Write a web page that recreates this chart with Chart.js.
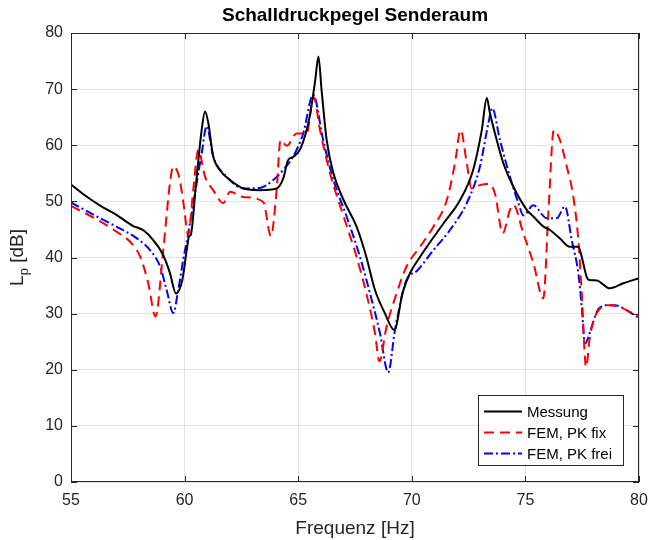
<!DOCTYPE html>
<html>
<head>
<meta charset="utf-8">
<script src="https://cdn.jsdelivr.net/npm/chart.js@4.4.1/dist/chart.umd.min.js"></script>
<style>
  html, body { margin: 0; padding: 0; background: #fff; }
  #wrap { width: 650px; height: 540px; }
</style>
</head>
<body>
<div id="wrap"><canvas id="chart" width="650" height="540"></canvas></div>
<script>
// === Daten ===
const xTicks = [55, 60, 65, 70, 75, 80];
const yTicks = [0, 10, 20, 30, 40, 50, 60, 70, 80];

const messungF = [55.0, 55.5, 56.3, 57.0, 57.7, 58.2, 58.6, 59.05, 59.35, 59.62, 59.9, 60.1, 60.2, 60.27, 60.5, 60.75, 60.9, 61.05, 61.25, 61.55, 62.0, 62.6, 63.3, 64.05, 64.35, 64.55, 64.8, 65.1, 65.5, 65.75, 65.89, 66.03, 66.25, 66.55, 67.0, 67.57, 68.0, 68.38, 68.8, 69.23, 69.6, 69.92, 70.36, 70.66, 71.4, 72.12, 72.7, 73.08, 73.3, 73.44, 73.74, 74.03, 74.47, 75.06, 75.35, 75.8, 76.08, 76.52, 76.96, 77.33, 77.48, 77.7, 77.8, 78.14, 78.72, 79.31, 80.0];
const messungL = [53.0, 51.4, 49.2, 47.6, 45.7, 44.8, 43.2, 40.5, 37.3, 33.6, 36.0, 41.5, 43.8, 44.0, 53.0, 62.7, 66.0, 63.8, 58.2, 55.6, 53.8, 52.3, 52.0, 52.3, 54.2, 57.3, 58.0, 59.4, 65.0, 71.6, 75.8, 69.8, 61.0, 55.0, 50.2, 45.5, 40.1, 34.2, 30.2, 27.1, 33.8, 37.2, 40.1, 41.9, 46.1, 50.2, 55.6, 62.7, 68.4, 65.7, 60.9, 56.8, 52.6, 48.5, 47.3, 45.5, 44.9, 43.4, 41.9, 41.9, 40.1, 36.5, 36.0, 35.9, 34.5, 35.4, 36.3];

const fixF = [55.0, 56.3, 57.0, 57.6, 58.05, 58.4, 58.72, 59.06, 59.36, 59.5, 59.75, 59.95, 60.16, 60.38, 60.6, 60.9, 61.26, 61.7, 62.0, 62.58, 63.46, 63.8, 64.05, 64.22, 64.5, 64.93, 65.37, 65.68, 65.96, 66.4, 67.0, 67.57, 68.0, 68.38, 68.57, 68.89, 69.33, 69.77, 70.36, 70.95, 71.54, 71.9, 72.15, 72.42, 72.63, 73.0, 73.37, 73.66, 74.0, 74.32, 74.47, 74.91, 75.35, 75.79, 76.01, 76.25, 76.52, 76.82, 77.11, 77.33, 77.48, 77.67, 77.84, 78.14, 78.72, 79.31, 80.0];
const fixL = [49.2, 46.4, 44.6, 42.8, 40.1, 35.4, 29.5, 41.3, 53.4, 56.2, 54.5, 49.7, 44.0, 52.0, 59.2, 54.4, 52.0, 49.7, 51.7, 50.8, 49.9, 43.8, 52.0, 60.9, 59.9, 62.1, 62.1, 68.6, 62.7, 55.0, 47.3, 40.1, 33.6, 26.5, 21.5, 27.7, 33.6, 38.4, 41.9, 45.5, 50.2, 56.8, 62.7, 56.8, 52.3, 52.9, 53.1, 51.4, 44.3, 48.5, 49.4, 44.3, 39.0, 32.7, 47.9, 62.7, 60.9, 56.2, 50.8, 43.1, 33.6, 20.5, 25.9, 30.1, 31.5, 30.9, 29.4];

const freiF = [55.0, 56.28, 57.0, 57.9, 58.48, 58.92, 59.21, 59.5, 59.72, 59.94, 60.16, 60.53, 60.75, 60.97, 61.26, 61.85, 62.58, 63.32, 63.9, 64.34, 64.78, 65.22, 65.66, 66.1, 66.55, 67.13, 67.72, 68.16, 68.6, 68.96, 69.26, 69.77, 70.22, 70.95, 71.68, 72.42, 73.0, 73.37, 73.54, 73.88, 74.32, 74.69, 74.91, 75.35, 75.94, 76.38, 76.74, 77.04, 77.33, 77.48, 77.62, 77.92, 78.14, 78.58, 78.94, 79.46, 80.0];
const freiL = [49.8, 47.0, 45.5, 43.4, 41.3, 38.4, 34.2, 30.1, 34.2, 39.6, 44.3, 53.2, 58.5, 63.4, 58.0, 54.4, 52.3, 52.4, 53.8, 55.6, 58.0, 62.1, 69.0, 60.9, 53.8, 47.3, 40.1, 33.6, 26.5, 19.5, 27.1, 36.0, 37.6, 41.3, 44.9, 49.7, 56.2, 63.9, 66.6, 60.9, 54.4, 49.7, 47.5, 49.3, 47.0, 47.0, 49.1, 43.1, 37.2, 31.2, 24.7, 27.7, 30.3, 31.5, 31.5, 30.6, 29.2];

const seriesNames = ["Messung", "FEM, PK fix", "FEM, PK frei"];
const seriesColors = ["#000000", "#ff0000", "#0000ff"];
const seriesDash = [[], [10, 6], [9, 3, 2, 3]];

const titleText = "Schalldruckpegel Senderaum";
const textColor = "#262626";
const font = "'Liberation Sans', Arial, Helvetica, sans-serif";

function toPoints(fs, ls) {
  return fs.map((f, i) => ({ x: f, y: ls[i] }));
}

const datasets = [
  toPoints(messungF, messungL),
  toPoints(fixF, fixL),
  toPoints(freiF, freiL),
].map((pts, i) => ({
  label: seriesNames[i],
  data: pts,
  borderColor: seriesColors[i],
  backgroundColor: seriesColors[i],
  borderWidth: 2,
  borderDash: seriesDash[i],
  pointRadius: 0,
  cubicInterpolationMode: "monotone",
  fill: false,
}));

// === Titel, Rahmen, Ticks nach innen, Y-Beschriftung, Legende ===
const matlabAxes = {
  id: "matlabAxes",
  afterDraw(chart) {
    const { ctx, chartArea: a, scales } = chart;
    ctx.save();
    // Titel über der Achsenmitte
    ctx.fillStyle = "#000000";
    ctx.font = "bold 19px " + font;
    ctx.textAlign = "center";
    ctx.textBaseline = "middle";
    ctx.fillText(titleText, (a.left + a.right) / 2, 16);
    ctx.textAlign = "left";

    // Rahmen
    ctx.strokeStyle = textColor;
    ctx.lineWidth = 1;
    ctx.setLineDash([]);
    ctx.strokeRect(Math.round(a.left) + 0.5, Math.round(a.top) + 0.5,
      Math.round(a.right - a.left) - 1, Math.round(a.bottom - a.top) - 1);
    // Ticks nach innen
    const tl = 6;
    ctx.beginPath();
    xTicks.forEach(v => {
      const px = Math.round(scales.x.getPixelForValue(v)) + 0.5;
      ctx.moveTo(px, a.bottom); ctx.lineTo(px, a.bottom - tl);
      ctx.moveTo(px, a.top); ctx.lineTo(px, a.top + tl);
    });
    yTicks.forEach(v => {
      const py = Math.round(scales.y.getPixelForValue(v)) + 0.5;
      ctx.moveTo(a.left, py); ctx.lineTo(a.left + tl, py);
      ctx.moveTo(a.right, py); ctx.lineTo(a.right - tl, py);
    });
    ctx.stroke();

    // Y-Achsentitel L_p [dB]
    ctx.fillStyle = textColor;
    ctx.translate(23, (a.top + a.bottom) / 2);
    ctx.rotate(-Math.PI / 2);
    ctx.textBaseline = "alphabetic";
    const big = "19px " + font, small = "13px " + font;
    ctx.font = big;
    const wL = ctx.measureText("L").width;
    const wRest = ctx.measureText(" [dB]").width;
    ctx.font = small;
    const wP = ctx.measureText("p").width;
    let x0 = -(wL + wP + wRest) / 2;
    ctx.font = big;
    ctx.fillText("L", x0, 0);
    ctx.font = small;
    ctx.fillText("p", x0 + wL, 5);
    ctx.font = big;
    ctx.fillText(" [dB]", x0 + wL + wP, 0);
    ctx.restore();

    // Legende
    ctx.save();
    const bx = 478, by = 395, bw = 145, bh = 70;
    ctx.fillStyle = "#ffffff";
    ctx.fillRect(bx, by, bw, bh);
    ctx.strokeStyle = textColor;
    ctx.lineWidth = 1;
    ctx.strokeRect(bx + 0.5, by + 0.5, bw, bh);
    ctx.font = "15px " + font;
    ctx.textBaseline = "middle";
    chart.data.datasets.forEach((ds, i) => {
      const ry = by + 16.5 + i * 21;
      ctx.strokeStyle = ds.borderColor;
      ctx.lineWidth = 2;
      ctx.setLineDash(ds.borderDash);
      ctx.beginPath();
      ctx.moveTo(484, ry);
      ctx.lineTo(522, ry);
      ctx.stroke();
      ctx.setLineDash([]);
      ctx.fillStyle = "#000000";
      ctx.fillText(ds.label, 527, ry + 1);
    });
    ctx.restore();
  },
};

new Chart(document.getElementById("chart"), {
  type: "line",
  data: { datasets },
  options: {
    responsive: false,
    animation: false,
    layout: { padding: { left: 0, right: 11, top: 33, bottom: 0 } },
    plugins: {
      legend: { display: false },
      tooltip: { enabled: false },
      title: { display: false },
    },
    scales: {
      x: {
        type: "linear",
        min: 55,
        max: 80,
        afterFit: s => { s.height = 58; s.paddingLeft = 0; s.paddingRight = 0; },
        afterBuildTicks: s => { s.ticks = xTicks.map(v => ({ value: v })); },
        ticks: { color: textColor, font: { family: font, size: 16 }, padding: 9, maxRotation: 0 },
        grid: { color: "#e3e3e3", drawTicks: false },
        border: { display: false },
        title: {
          display: true,
          text: "Frequenz [Hz]",
          color: textColor,
          font: { family: font, size: 19 },
          padding: { top: 0, bottom: 0 },
        },
      },
      y: {
        min: 0,
        max: 80,
        afterFit: s => { s.width = 71; s.paddingTop = 0; s.paddingBottom = 0; },
        afterBuildTicks: s => { s.ticks = yTicks.map(v => ({ value: v })); },
        ticks: { color: textColor, font: { family: font, size: 16 }, padding: 8 },
        grid: { color: "#e3e3e3", drawTicks: false },
        border: { display: false },
      },
    },
  },
  plugins: [matlabAxes],
});
</script>
</body>
</html>
